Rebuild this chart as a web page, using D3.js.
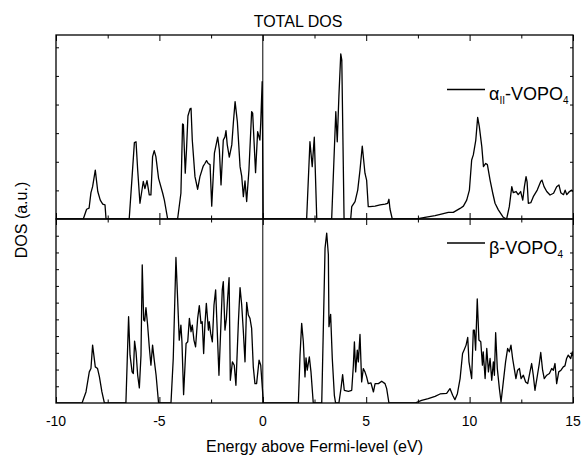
<!DOCTYPE html>
<html>
<head>
<meta charset="utf-8">
<script src="https://cdn.jsdelivr.net/npm/d3@7"></script>
<style>
  html, body { margin: 0; padding: 0; background: #fff; }
  svg { display: block; font-family: "Liberation Sans", Arial, sans-serif; }
</style>
</head>
<body>
<svg id="chart" width="582" height="458"></svg>
<script>
// ---------- data ----------
const alphaEnergy = [-10,-8.68,-8.52,-8.40,-8.31,-8.23,-8.10,-7.98,-7.86,-7.74,-7.63,-7.58,-6.46,-6.32,-6.21,-6.13,-6.05,-5.94,-5.78,-5.70,-5.60,-5.49,-5.41,-5.33,-5.25,-5.17,-5.04,-4.84,-4.76,-4.60,-4.12,-3.96,-3.88,-3.84,-3.75,-3.69,-3.62,-3.52,-3.47,-3.41,-3.28,-3.15,-3.04,-2.88,-2.80,-2.72,-2.64,-2.55,-2.47,-2.34,-2.18,-2.10,-2.02,-1.91,-1.83,-1.78,-1.72,-1.62,-1.50,-1.42,-1.34,-1.23,-1.10,-1.02,-0.94,-0.86,-0.78,-0.67,-0.54,-0.49,-0.35,-0.25,-0.14,-0.10,-0.03,0.02,2.12,2.28,2.39,2.49,2.61,3.33,3.53,3.60,3.68,3.77,3.82,3.93,4.25,4.30,4.46,4.59,4.70,4.81,4.94,5.02,5.10,5.18,5.43,5.67,5.91,6.04,6.10,6.15,6.26,7.44,7.84,8.33,8.73,8.97,9.21,9.54,9.70,9.86,9.99,10.10,10.18,10.30,10.39,10.47,10.59,10.67,10.78,10.86,10.99,11.12,11.23,11.39,11.63,11.79,11.92,12.04,12.11,12.25,12.35,12.47,12.57,12.65,12.73,12.78,12.84,12.96,13.08,13.27,13.44,13.50,13.60,13.73,13.89,14.06,14.21,14.32,14.41,14.54,14.62,14.70,14.83,14.94,15];
const alphaDOS = [0,0,0.34,0.38,0.92,1.13,1.71,0.96,0.66,0.52,0.49,0,0,1.48,2.67,2.70,1.71,0.55,1.31,1.06,1.34,0.84,0.84,2.18,2.39,2.18,1.42,0.90,0.66,0,0,0.90,3.32,3.30,1.60,2.41,3.60,3.85,3.87,2.76,1.48,1.04,1.48,1.85,1.94,2.04,1.94,1.90,0.45,2.30,2.86,2.41,1.19,2.76,2.87,3.09,2.60,2.16,2.59,3.40,4.10,3.40,1.83,1.50,0.78,1.33,0.61,1.71,3.75,3.70,1.62,3.05,2.76,3.35,4.80,0,0,2.70,1.83,2.86,0,0,3.75,2.70,4.30,5.77,5.55,0,0,0.43,0.61,1.01,1.71,2.55,1.60,1.36,0.43,0.43,0.45,0.49,0.52,0.55,0.69,0.35,0,0,0.06,0.12,0.19,0.23,0.23,0.37,0.45,0.66,1.01,2.06,2.24,2.76,3.55,3.23,2.53,1.83,1.94,1.90,1.36,0.90,0.55,0.32,0.06,0,0.43,1.13,0.92,0.96,0.85,0.96,0.66,1.13,1.48,1.30,0.55,0.57,0.78,1.01,1.31,1.36,1.13,0.96,0.84,0.90,1.13,1.19,0.92,0.85,1.01,0.85,0.96,1.01,0.96];

const betaEnergy = [-10,-8.74,-8.55,-8.39,-8.31,-8.23,-8.10,-7.99,-7.90,-7.78,-7.66,-6.62,-6.49,-6.42,-6.32,-6.26,-6.20,-6.13,-6.05,-5.97,-5.89,-5.83,-5.76,-5.71,-5.65,-5.57,-5.49,-5.41,-5.33,-5.25,-5.16,-5.04,-4.44,-4.33,-4.20,-4.12,-4.04,-3.96,-3.91,-3.83,-3.71,-3.63,-3.55,-3.47,-3.41,-3.33,-3.25,-3.15,-3.07,-2.99,-2.93,-2.86,-2.80,-2.73,-2.63,-2.59,-2.52,-2.44,-2.36,-2.28,-2.22,-2.12,-2.02,-1.96,-1.91,-1.83,-1.76,-1.70,-1.63,-1.57,-1.47,-1.38,-1.30,-1.18,-1.10,-1.02,-0.94,-0.86,-0.78,-0.70,-0.62,-0.54,-0.46,-0.38,-0.30,-0.18,-0.10,0.03,1.72,1.80,1.88,1.96,2.04,2.09,2.15,2.25,2.33,2.44,2.85,3.01,3.09,3.17,3.20,3.28,3.36,3.46,3.52,3.68,3.78,3.86,3.94,4.14,4.30,4.38,4.43,4.49,4.57,4.62,4.70,4.78,4.86,4.94,5.02,5.10,5.23,5.35,5.43,5.59,5.75,5.91,5.99,6.10,7.36,7.68,8.00,8.33,8.57,8.89,9.05,9.18,9.29,9.41,9.54,9.66,9.73,9.83,9.91,9.97,10.10,10.18,10.23,10.29,10.37,10.45,10.54,10.62,10.66,10.75,10.83,10.91,10.99,11.07,11.15,11.20,11.26,11.34,11.44,11.52,11.63,11.74,11.84,11.92,12.00,12.08,12.16,12.24,12.32,12.41,12.49,12.60,12.71,12.81,12.92,13.00,13.08,13.16,13.28,13.37,13.44,13.53,13.61,13.73,13.86,13.97,14.05,14.13,14.21,14.31,14.42,14.53,14.61,14.69,14.77,14.89,14.97,15];
const betaDOS = [0,0,0.66,1.86,2.06,3.46,2.16,2.06,1.56,0.66,0,0,5.16,2.86,1.86,1.76,3.70,3.06,1.66,0.90,2.86,8.26,4.96,4.90,5.70,4.66,3.36,2.26,3.46,2.56,1.66,0,0,2.66,8.70,6.26,3.76,4.66,3.66,0.50,3.56,3.66,5.06,4.26,4.66,3.76,3.36,5.06,5.82,4.76,4.86,2.96,4.66,5.96,4.36,4.86,4.16,3.66,5.86,6.76,4.86,1.66,4.86,6.76,7.26,4.36,5.06,6.26,7.50,1.36,2.46,2.26,1.06,4.86,6.90,5.86,4.26,2.46,6.02,5.26,5.06,4.46,2.16,1.16,1.16,2.56,2.26,0,0,2.86,4.76,3.66,1.56,2.70,1.96,2.76,1.86,0,0,9.26,10.16,8.86,4.56,5.30,2.66,0.46,0,0,0.86,1.70,0.76,0.70,0.76,2.26,3.66,1.86,3.16,2.46,4.10,1.26,2.06,1.86,1.56,1.16,1.20,0.66,1.16,1.16,1.30,1.16,0.86,0,0,0.16,0.26,0.40,0.54,0.58,0.86,0.46,0.20,0.56,1.46,2.96,3.16,3.46,3.92,2.46,1.46,4.36,4.36,3.16,6.22,3.76,3.66,2.26,3.06,1.46,3.26,1.86,2.66,1.36,2.46,1.66,4.20,2.06,0.86,0.06,1.26,2.46,3.26,3.06,3.46,2.66,2.06,1.46,1.96,2.06,1.46,1.66,1.26,1.16,1.86,2.36,1.66,0.76,1.66,2.36,3.02,1.96,1.46,1.66,1.76,2.06,1.96,2.36,1.16,1.86,1.96,2.16,2.22,2.66,2.86,2.66,3.06,2.80];

const xTickValues = [-10, -5, 0, 5, 10, 15];
const xTickLabels = ["-10", "-5", "0", "5", "10", "15"];
const xMinorValues = [-7.5, -2.5, 2.5, 7.5, 12.5];
const topYTicks = [1, 2, 3, 4, 5, 6];
const bottomYTicks = [1, 2, 3, 4, 5, 6, 7, 8, 9, 10];
const titleText = "TOTAL DOS";
const xLabelText = "Energy above Fermi-level (eV)";
const yLabelText = "DOS (a.u.)";

// ---------- layout ----------
const svg = d3.select("#chart");
const left = 56, right = 573;
const topPanel = { y0: 35, y1: 219 };
const botPanel = { y0: 219, y1: 403 };

const x = d3.scaleLinear().domain([-10, 15]).range([left, right]);
const yTop = d3.scaleLinear().domain([0, 6.43]).range([topPanel.y1, topPanel.y0]);
const yBot = d3.scaleLinear().domain([0, 11]).range([botPanel.y1, botPanel.y0]);

const defs = svg.append("defs");
function addClip(id, p) {
  defs.append("clipPath").attr("id", id)
    .append("rect").attr("x", left).attr("y", p.y0 - 1)
    .attr("width", right - left).attr("height", p.y1 - p.y0 + 1);
}
addClip("clipTop", topPanel);
addClip("clipBot", botPanel);

function drawPanel(p, y, yTicks, energy, dos, clipId, legendParts, legendY) {
  const g = svg.append("g");
  const data = energy.map((e, i) => [e, dos[i]]);
  const line = d3.line().x(d => x(d[0])).y(d => y(d[1]));
  g.append("path").datum(data)
    .attr("clip-path", `url(#${clipId})`)
    .attr("fill", "none").attr("stroke", "#000")
    .attr("stroke-width", 1.3).attr("stroke-linejoin", "round")
    .attr("d", line);

  // axes (inward ticks)
  const bottomAx = d3.axisTop(x).tickValues(xTickValues).tickSize(6).tickFormat("");
  const bottomMinor = d3.axisTop(x).tickValues(xMinorValues).tickSize(3.5).tickFormat("");
  const topAx = d3.axisBottom(x).tickValues(xTickValues).tickSize(6).tickFormat("");
  const topMinor = d3.axisBottom(x).tickValues(xMinorValues).tickSize(3.5).tickFormat("");
  const leftAx = d3.axisRight(y).tickValues(yTicks).tickSize(3).tickFormat("");
  const rightAx = d3.axisLeft(y).tickValues(yTicks).tickSize(3).tickFormat("");

  const axes = [
    g.append("g").attr("transform", `translate(0,${p.y1})`).call(bottomAx),
    g.append("g").attr("transform", `translate(0,${p.y1})`).call(bottomMinor),
    g.append("g").attr("transform", `translate(0,${p.y0})`).call(topAx),
    g.append("g").attr("transform", `translate(0,${p.y0})`).call(topMinor),
    g.append("g").attr("transform", `translate(${left},0)`).call(leftAx),
    g.append("g").attr("transform", `translate(${right},0)`).call(rightAx)
  ];
  axes.forEach(a => {
    a.select(".domain").remove();
    a.selectAll("line").attr("stroke", "#000").attr("stroke-width", 1);
  });

  g.append("rect").attr("x", left).attr("y", p.y0)
    .attr("width", right - left).attr("height", p.y1 - p.y0)
    .attr("fill", "none").attr("stroke", "#000").attr("stroke-width", 1.3);

  // legend
  g.append("line").attr("x1", 447).attr("x2", 485)
    .attr("y1", legendY - 10.5).attr("y2", legendY - 10.5)
    .attr("stroke", "#000").attr("stroke-width", 1.3);
  const t = g.append("text").attr("x", 489).attr("y", legendY)
    .attr("font-size", 18).attr("fill", "#000");
  legendParts.forEach(pt => {
    const s = t.append("tspan").text(pt.text);
    if (pt.sub) s.attr("font-size", 10).attr("dy", 4);
    else if (pt.up) s.attr("dy", -4);
  });
}

drawPanel(topPanel, yTop, topYTicks, alphaEnergy, alphaDOS, "clipTop",
  [{ text: "α" }, { text: "II", sub: true }, { text: "-VOPO", up: true }, { text: "4", sub: true }], 100);
drawPanel(botPanel, yBot, bottomYTicks, betaEnergy, betaDOS, "clipBot",
  [{ text: "β-VOPO" }, { text: "4", sub: true }], 253.5);

// Fermi level line
svg.append("line").attr("x1", x(0)).attr("x2", x(0))
  .attr("y1", topPanel.y0).attr("y2", botPanel.y1)
  .attr("stroke", "#000").attr("stroke-width", 1);

// x tick labels
svg.append("g").selectAll("text").data(xTickValues).join("text")
  .attr("x", d => x(d)).attr("y", 426)
  .attr("text-anchor", "middle").attr("font-size", 14).attr("fill", "#000")
  .text((d, i) => xTickLabels[i]);

// title and axis labels
svg.append("text").attr("x", 298).attr("y", 27).attr("text-anchor", "middle")
  .attr("font-size", 16).attr("fill", "#000").text(titleText);
svg.append("text").attr("x", (left + right) / 2).attr("y", 452).attr("text-anchor", "middle")
  .attr("font-size", 16).attr("fill", "#000").text(xLabelText);
svg.append("text").attr("transform", "translate(27,220) rotate(-90)")
  .attr("text-anchor", "middle").attr("font-size", 16).attr("fill", "#000").text(yLabelText);
</script>
</body>
</html>
